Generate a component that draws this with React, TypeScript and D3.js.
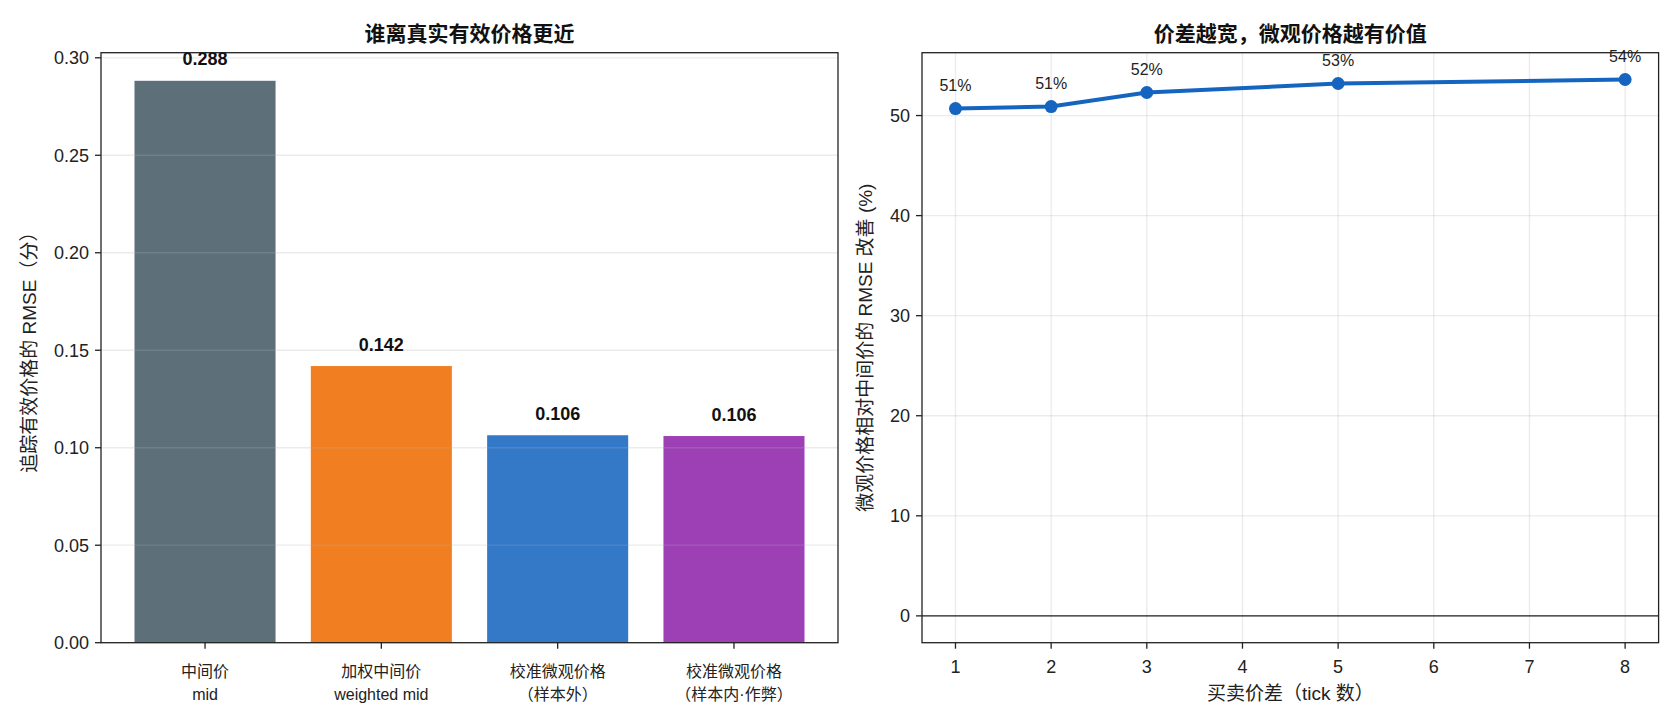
import React, { useRef, useEffect } from "react";
import * as d3 from "d3";

// left panel: RMSE by estimator
const barTitle = "谁离真实有效价格更近";
const barCategories = ["中间价", "加权中间价", "校准微观价格", "校准微观价格"];
const barSubLabels = ["mid", "weighted mid", "（样本外）", "（样本内·作弊）"];
const barValues = [0.2882, 0.1419, 0.1064, 0.106];
const barColors = ["#455a64", "#ef6c00", "#1565c0", "#8e24aa"];
const barYTicks = [0, 0.05, 0.1, 0.15, 0.2, 0.25, 0.3];

// right panel: improvement vs spread
const lineTitle = "价差越宽，微观价格越有价值";
const spreads = [1, 2, 3, 5, 8];
const improvements = [50.7, 50.9, 52.3, 53.2, 53.6];
const lineXTicks = [1, 2, 3, 4, 5, 6, 7, 8];
const lineYTicks = [0, 10, 20, 30, 40, 50];

const FONT = '"Liberation Sans", "Noto Sans CJK SC", sans-serif';
const INK = "#222";

export default function App() {
  const svgRef = useRef<SVGSVGElement>(null);

  useEffect(() => {
    if (!svgRef.current) return;
    const svg = d3.select(svgRef.current);
    svg.selectAll("*").remove();

    const top = 52.7;
    const bottom = 642.7;

    // ---------- left: bars ----------
    const L = { x0: 101, x1: 838 };
    const xBar = d3.scaleLinear().domain([-0.59, barValues.length - 1 + 0.59]).range([L.x0, L.x1]);
    const yBar = d3.scaleLinear().domain([0, d3.max(barValues)! * 1.05]).range([bottom, top]);

    const gl = svg.append("g");

    gl.selectAll("rect.bar")
      .data(barValues)
      .join("rect")
      .attr("x", (_, i) => xBar(i - 0.4))
      .attr("width", xBar(0.4) - xBar(-0.4))
      .attr("y", d => yBar(d))
      .attr("height", d => yBar(0) - yBar(d))
      .attr("fill", (_, i) => barColors[i])
      .attr("fill-opacity", 0.87);

    // grid on top of bars, like the original
    gl.selectAll("line.grid")
      .data(barYTicks)
      .join("line")
      .attr("x1", L.x0)
      .attr("x2", L.x1)
      .attr("y1", d => yBar(d))
      .attr("y2", d => yBar(d))
      .attr("stroke", "#b0b0b0")
      .attr("stroke-opacity", 0.25)
      .attr("stroke-width", 1.3);

    gl.selectAll("text.val")
      .data(barValues)
      .join("text")
      .attr("x", (_, i) => xBar(i))
      .attr("y", d => yBar(d) - 15.5)
      .attr("text-anchor", "middle")
      .style("font-family", FONT)
      .style("font-size", "18px")
      .style("font-weight", "bold")
      .style("fill", "#111")
      .text(d => d.toFixed(3));

    // y ticks
    barYTicks.forEach(t => {
      const y = yBar(t);
      gl.append("line").attr("x1", L.x0 - 6).attr("x2", L.x0).attr("y1", y).attr("y2", y)
        .attr("stroke", INK).attr("stroke-width", 1.3);
      gl.append("text").attr("x", L.x0 - 12).attr("y", y + 6.5).attr("text-anchor", "end")
        .style("font-family", FONT).style("font-size", "18px").style("fill", INK)
        .text(t.toFixed(2));
    });

    // x ticks + two-line labels
    barCategories.forEach((c, i) => {
      const x = xBar(i);
      gl.append("line").attr("x1", x).attr("x2", x).attr("y1", bottom).attr("y2", bottom + 6)
        .attr("stroke", INK).attr("stroke-width", 1.3);
      gl.append("text").attr("x", x).attr("y", bottom + 34).attr("text-anchor", "middle")
        .style("font-family", FONT).style("font-size", "16px").style("fill", INK).text(c);
      gl.append("text").attr("x", x).attr("y", bottom + 57).attr("text-anchor", "middle")
        .style("font-family", FONT).style("font-size", "16px").style("fill", INK).text(barSubLabels[i]);
    });

    gl.append("rect").attr("x", L.x0).attr("y", top).attr("width", L.x1 - L.x0).attr("height", bottom - top)
      .attr("fill", "none").attr("stroke", INK).attr("stroke-width", 1.3);

    gl.append("text")
      .attr("transform", `translate(36,${(top + bottom) / 2}) rotate(-90)`)
      .attr("text-anchor", "middle")
      .style("font-family", FONT).style("font-size", "19px").style("fill", INK)
      .text("追踪有效价格的 RMSE（分）");

    gl.append("text")
      .attr("x", (L.x0 + L.x1) / 2).attr("y", 41).attr("text-anchor", "middle")
      .style("font-family", FONT).style("font-size", "21px").style("font-weight", "bold").style("fill", "#111")
      .text(barTitle);

    // ---------- right: line ----------
    const R = { x0: 922, x1: 1658.6 };
    const xLine = d3.scaleLinear().domain([0.65, 8.35]).range([R.x0, R.x1]);
    const yMax = d3.max(improvements)!;
    const yLine = d3.scaleLinear().domain([-0.05 * yMax, yMax * 1.05]).range([bottom, top]);

    const gr = svg.append("g");

    lineXTicks.forEach(t => {
      const x = xLine(t);
      gr.append("line").attr("x1", x).attr("x2", x).attr("y1", top).attr("y2", bottom)
        .attr("stroke", "#b0b0b0").attr("stroke-opacity", 0.25).attr("stroke-width", 1.3);
      gr.append("line").attr("x1", x).attr("x2", x).attr("y1", bottom).attr("y2", bottom + 6)
        .attr("stroke", INK).attr("stroke-width", 1.3);
      gr.append("text").attr("x", x).attr("y", bottom + 30).attr("text-anchor", "middle")
        .style("font-family", FONT).style("font-size", "18px").style("fill", INK).text(String(t));
    });

    lineYTicks.forEach(t => {
      const y = yLine(t);
      gr.append("line").attr("x1", R.x0).attr("x2", R.x1).attr("y1", y).attr("y2", y)
        .attr("stroke", "#b0b0b0").attr("stroke-opacity", 0.25).attr("stroke-width", 1.3);
      gr.append("line").attr("x1", R.x0 - 6).attr("x2", R.x0).attr("y1", y).attr("y2", y)
        .attr("stroke", INK).attr("stroke-width", 1.3);
      gr.append("text").attr("x", R.x0 - 12).attr("y", y + 6.5).attr("text-anchor", "end")
        .style("font-family", FONT).style("font-size", "18px").style("fill", INK).text(String(t));
    });

    // zero reference line
    gr.append("line").attr("x1", R.x0).attr("x2", R.x1).attr("y1", yLine(0)).attr("y2", yLine(0))
      .attr("stroke", INK).attr("stroke-width", 1.4);

    const line = d3.line<number>()
      .x((_, i) => xLine(spreads[i]))
      .y(d => yLine(d));

    gr.append("path")
      .datum(improvements)
      .attr("fill", "none")
      .attr("stroke", "#1565c0")
      .attr("stroke-width", 4)
      .attr("d", line);

    gr.selectAll("circle")
      .data(improvements)
      .join("circle")
      .attr("cx", (_, i) => xLine(spreads[i]))
      .attr("cy", d => yLine(d))
      .attr("r", 6.5)
      .attr("fill", "#1565c0");

    gr.selectAll("text.pct")
      .data(improvements)
      .join("text")
      .attr("x", (_, i) => xLine(spreads[i]))
      .attr("y", d => yLine(d) - 18)
      .attr("text-anchor", "middle")
      .style("font-family", FONT).style("font-size", "16px").style("fill", INK)
      .text(d => `${Math.round(d)}%`);

    gr.append("rect").attr("x", R.x0).attr("y", top).attr("width", R.x1 - R.x0).attr("height", bottom - top)
      .attr("fill", "none").attr("stroke", INK).attr("stroke-width", 1.3);

    gr.append("text")
      .attr("transform", `translate(872,${(top + bottom) / 2}) rotate(-90)`)
      .attr("text-anchor", "middle")
      .style("font-family", FONT).style("font-size", "19px").style("fill", INK)
      .text("微观价格相对中间价的 RMSE 改善 (%)");

    gr.append("text")
      .attr("x", (R.x0 + R.x1) / 2).attr("y", 700).attr("text-anchor", "middle")
      .style("font-family", FONT).style("font-size", "19px").style("fill", INK)
      .text("买卖价差（tick 数）");

    gr.append("text")
      .attr("x", (R.x0 + R.x1) / 2).attr("y", 41).attr("text-anchor", "middle")
      .style("font-family", FONT).style("font-size", "21px").style("font-weight", "bold").style("fill", "#111")
      .text(lineTitle);
  }, []);

  return (
    <svg
      ref={svgRef}
      width={1680}
      height={728}
      style={{ position: "fixed", left: 0, top: 0, background: "#fff", display: "block" }}
    />
  );
}
